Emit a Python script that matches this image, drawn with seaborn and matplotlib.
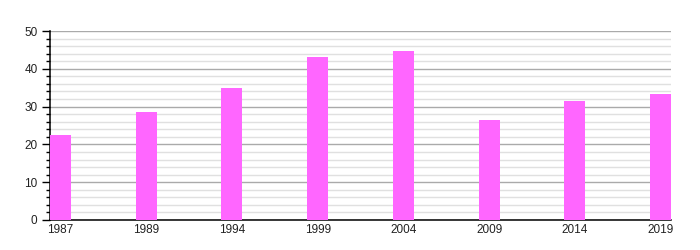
import matplotlib
matplotlib.use("Agg")
import matplotlib.pyplot as plt
import seaborn as sns
import pandas as pd
from matplotlib.ticker import MultipleLocator

years = ["1987", "1989", "1994", "1999", "2004", "2009", "2014", "2019"]
values = [22.5, 28.6, 34.9, 43.1, 44.7, 26.5, 31.5, 33.3]

df = pd.DataFrame({"year": years, "value": values})

sns.set_style("white")
plt.rcParams['font.family'] = ['Liberation Sans', 'DejaVu Sans']

fig = plt.figure(figsize=(7, 2.5), dpi=100)
ax = fig.add_axes([50/700, 30/250, 621/700, 189/250])

w = 0.245
sns.barplot(data=df, x="year", y="value", color="#ff66ff", width=w,
            saturation=1, ax=ax, zorder=3)
for p in ax.patches:
    p.set_edgecolor("none")

ax.set_xlim(-w/2, len(years) - 1 + w/2)
ax.set_ylim(0, 50)
ax.yaxis.set_major_locator(MultipleLocator(10))
ax.yaxis.set_minor_locator(MultipleLocator(2))
ax.grid(which="major", axis="y", color="#aaaaaa", linewidth=1, zorder=0)
ax.grid(which="minor", axis="y", color="#e0e0e0", linewidth=1, zorder=0)
ax.set_axisbelow(True)

for s in ["top", "right"]:
    ax.spines[s].set_visible(False)
for s in ["left", "bottom"]:
    ax.spines[s].set_visible(True)
    ax.spines[s].set_color("black")
    ax.spines[s].set_linewidth(1.1)

ax.tick_params(axis="y", which="major", length=6, width=1, color="black",
               labelsize=8.5, pad=3, left=True, labelcolor="#222222")
ax.tick_params(axis="y", which="minor", length=3, width=1, color="black", left=True)
ax.tick_params(axis="x", length=0, labelsize=8.5, pad=3, labelcolor="#222222")
ax.set_xlabel("")
ax.set_ylabel("")

fig.savefig("out.png", dpi=100)
